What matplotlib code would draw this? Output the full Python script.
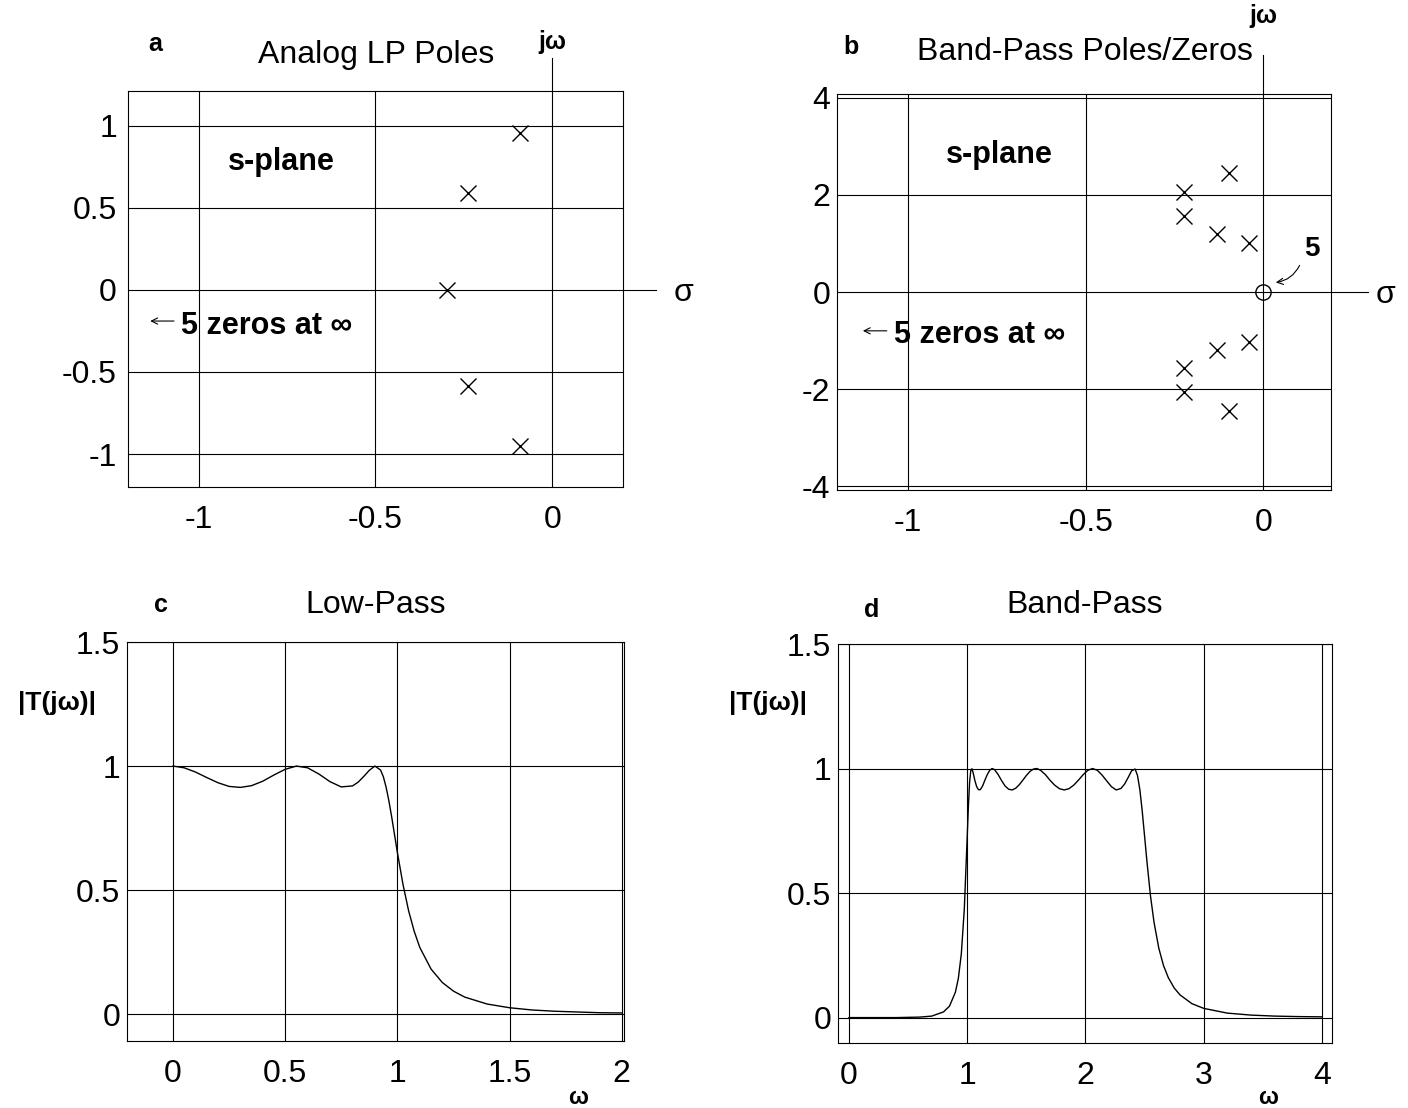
import matplotlib
matplotlib.use('Agg')
import matplotlib.pyplot as plt

plt.rcParams['font.family'] = ['Liberation Sans', 'DejaVu Sans']
plt.rcParams['axes.unicode_minus'] = False

# panel a: analog low-pass poles
lp_pole_re = [-0.09, -0.238, -0.297, -0.238, -0.09]
lp_pole_im = [0.953, 0.588, 0.0, -0.588, -0.953]

# panel b: band-pass poles and the 5 zeros at the origin
bp_pole_re = [-0.225, -0.224, -0.097, -0.13, -0.041, -0.041, -0.13, -0.097, -0.224, -0.225]
bp_pole_im = [2.07, 1.57, 2.45, 1.2, 1.02, -1.02, -1.2, -2.45, -1.57, -2.07]
bp_zero_re = [0.0]
bp_zero_im = [0.0]

# panel c: low-pass magnitude
lp_w = [0, 0.05, 0.1, 0.15, 0.2, 0.25, 0.3, 0.35, 0.4, 0.45,
        0.5, 0.55, 0.6, 0.65, 0.7, 0.75, 0.8, 0.825, 0.85, 0.875,
        0.9, 0.925, 0.9375, 0.95, 0.9625, 0.975, 1.0, 1.025, 1.05, 1.075,
        1.1, 1.15, 1.2, 1.25, 1.3, 1.4, 1.5, 1.6, 1.7, 1.8,
        1.9, 2.0]
lp_mag = [1.000, 0.993, 0.976, 0.954, 0.933, 0.918, 0.914, 0.921, 0.939, 0.964,
          0.987, 1.000, 0.993, 0.968, 0.937, 0.916, 0.920, 0.935, 0.958, 0.983,
          1.000, 0.984, 0.957, 0.914, 0.858, 0.793, 0.652, 0.523, 0.417, 0.334,
          0.269, 0.182, 0.128, 0.093, 0.069, 0.041, 0.026, 0.017, 0.012, 0.009,
          0.006, 0.005]

# panel d: band-pass magnitude
bp_w = [0.0, 0.4, 0.6, 0.7, 0.8, 0.85, 0.9, 0.925, 0.95, 0.975,
        1.0, 1.01, 1.02, 1.03, 1.04, 1.05, 1.065, 1.08, 1.095, 1.11,
        1.13, 1.15, 1.17, 1.19, 1.21, 1.23, 1.26, 1.29, 1.32, 1.35,
        1.38, 1.41, 1.44, 1.47, 1.5, 1.53, 1.56, 1.59, 1.62, 1.66,
        1.70, 1.74, 1.78, 1.82, 1.86, 1.90, 1.94, 1.98, 2.02, 2.06,
        2.10, 2.14, 2.18, 2.22, 2.26, 2.30, 2.33, 2.36, 2.39, 2.42,
        2.44, 2.46, 2.48, 2.50, 2.52, 2.55, 2.58, 2.62, 2.66, 2.70,
        2.75, 2.8, 2.9, 3.0, 3.2, 3.4, 3.6, 3.8, 4.0]
bp_mag = [0.000, 0.000, 0.002, 0.006, 0.023, 0.046, 0.102, 0.158, 0.256, 0.434,
          0.728, 0.851, 0.945, 0.992, 0.999, 0.983, 0.951, 0.927, 0.915, 0.915,
          0.930, 0.954, 0.976, 0.993, 1.000, 0.996, 0.977, 0.952, 0.930, 0.917,
          0.914, 0.921, 0.935, 0.953, 0.972, 0.988, 0.998, 1.000, 0.993, 0.976,
          0.953, 0.933, 0.919, 0.914, 0.919, 0.933, 0.953, 0.975, 0.993, 1.000,
          0.993, 0.974, 0.950, 0.927, 0.914, 0.920, 0.937, 0.963, 0.991, 0.998,
          0.972, 0.915, 0.829, 0.728, 0.626, 0.488, 0.382, 0.279, 0.209, 0.161,
          0.119, 0.091, 0.056, 0.037, 0.018, 0.010, 0.006, 0.004, 0.003]

sigma_ticks = [-1, -0.5, 0]
sigma_labels = ['-1', '-0.5', '0']
lp_jw_ticks = [-1, -0.5, 0, 0.5, 1]
lp_jw_labels = ['-1', '-0.5', '0', '0.5', '1']
bp_jw_ticks = [-4, -2, 0, 2, 4]
bp_jw_labels = ['-4', '-2', '0', '2', '4']
mag_ticks = [0, 0.5, 1, 1.5]
mag_labels = ['0', '0.5', '1', '1.5']
lp_w_ticks = [0, 0.5, 1, 1.5, 2]
lp_w_labels = ['0', '0.5', '1', '1.5', '2']
bp_w_ticks = [0, 1, 2, 3, 4]
bp_w_labels = ['0', '1', '2', '3', '4']

W, H = 1408, 1108
fig = plt.figure(figsize=(W / 100, H / 100), dpi=100)


def px(x, y):
    return x / W, 1 - y / H


def make_axes(box, xlim, ylim, xt, xl, yt, yl, ypad):
    left, top, right, bottom = box
    ax = fig.add_axes([left / W, 1 - bottom / H, (right - left) / W, (bottom - top) / H])
    ax.set_xlim(xlim)
    ax.set_ylim(ylim)
    ax.set_xticks(xt, xl)
    ax.set_yticks(yt, yl)
    ax.grid(True, color='k', lw=0.8)
    ax.set_axisbelow(True)
    ax.tick_params(length=0, labelsize=23)
    ax.tick_params(axis='x', pad=13)
    ax.tick_params(axis='y', pad=ypad)
    for sp in ax.spines.values():
        sp.set_linewidth(0.8)
    return ax


def axis_marks(ax, x_top, y_right, jw_top, jw_text_y, sig_end, sig_text_x, sig_text_y):
    # j-omega axis sticking out of the top, sigma axis out of the right side
    ax.plot([0, 0], [x_top, jw_top], color='k', lw=0.8, clip_on=False)
    ax.text(0, jw_text_y, 'j\u03c9', fontsize=18, fontweight='bold', ha='center', va='center')
    ax.plot([y_right, sig_end], [0, 0], color='k', lw=0.8, clip_on=False)
    ax.text(sig_text_x, sig_text_y, '\u03c3', fontsize=23, ha='center', va='center')


def zeros_note(ax, x, y, ay):
    ax.text(x, y, '5 zeros at \u221e', fontsize=22, fontweight='bold', ha='left', va='center')
    ax.annotate('', xy=(x - 0.095, ay), xytext=(x - 0.012, ay),
                arrowprops=dict(arrowstyle='->', lw=0.8, color='k', mutation_scale=11))


# a
ax = make_axes((128, 91, 623, 487), (-1.2, 0.2), (-1.2, 1.21),
               sigma_ticks, sigma_labels, lp_jw_ticks, lp_jw_labels, 8)
ax.plot(lp_pole_re, lp_pole_im, 'x', color='k', ms=11.5, mew=1.0)
ax.text(-0.765, 0.78, 's-plane', fontsize=22, fontweight='bold', ha='center', va='center')
zeros_note(ax, -1.05, -0.22, -0.19)
axis_marks(ax, 1.21, 0.2, 1.41, 1.51, 0.293, 0.372, -0.02)

# b
ax = make_axes((837, 94, 1331, 490), (-1.2, 0.19), (-4.08, 4.08),
               sigma_ticks, sigma_labels, bp_jw_ticks, bp_jw_labels, 5)
ax.plot(bp_pole_re, bp_pole_im, 'x', color='k', ms=11.5, mew=1.0)
ax.plot(bp_zero_re, bp_zero_im, 'o', color='k', mfc='none', ms=11, mew=1.0)
ax.text(-0.743, 2.82, 's-plane', fontsize=22, fontweight='bold', ha='center', va='center')
zeros_note(ax, -1.04, -0.88, -0.8)
ax.text(0.137, 0.88, '5', fontsize=20, fontweight='bold', ha='center', va='center')
ax.annotate('', xy=(0.027, 0.19), xytext=(0.105, 0.6),
            arrowprops=dict(arrowstyle='->', lw=0.8, color='k', mutation_scale=11,
                            connectionstyle='arc3,rad=-0.3'))
axis_marks(ax, 4.08, 0.19, 4.88, 5.68, 0.294, 0.342, -0.06)

# c
ax = make_axes((127, 642, 624, 1041), (-0.205, 2.01), (-0.108, 1.5),
               lp_w_ticks, lp_w_labels, mag_ticks, mag_labels, 5)
ax.plot(lp_w, lp_mag, color='k', lw=1.0)

# d
ax = make_axes((838, 644, 1332, 1043), (-0.093, 4.085), (-0.102, 1.5),
               bp_w_ticks, bp_w_labels, mag_ticks, mag_labels, 5)
ax.plot(bp_w, bp_mag, color='k', lw=1.0)

# titles, panel letters and axis names
for x, y, s in [(376, 55, 'Analog LP Poles'), (1085, 52, 'Band-Pass Poles/Zeros'),
                (376, 605, 'Low-Pass'), (1085, 605, 'Band-Pass')]:
    fig.text(*px(x, y), s, fontsize=23, ha='center', va='center')
for x, y, s in [(155, 44, 'a'), (851, 47, 'b'), (161, 605, 'c'), (872, 610, 'd')]:
    fig.text(*px(x, y), s, fontsize=18, fontweight='bold', ha='center', va='center')
for x in (96, 807):
    fig.text(*px(x, 703), '|T(j\u03c9)|', fontsize=19, fontweight='bold', ha='right', va='center')
for x in (578, 1268):
    fig.text(*px(x, 1097), '\u03c9', fontsize=17, fontweight='bold', ha='center', va='center')

fig.savefig('out.png', dpi=100)
